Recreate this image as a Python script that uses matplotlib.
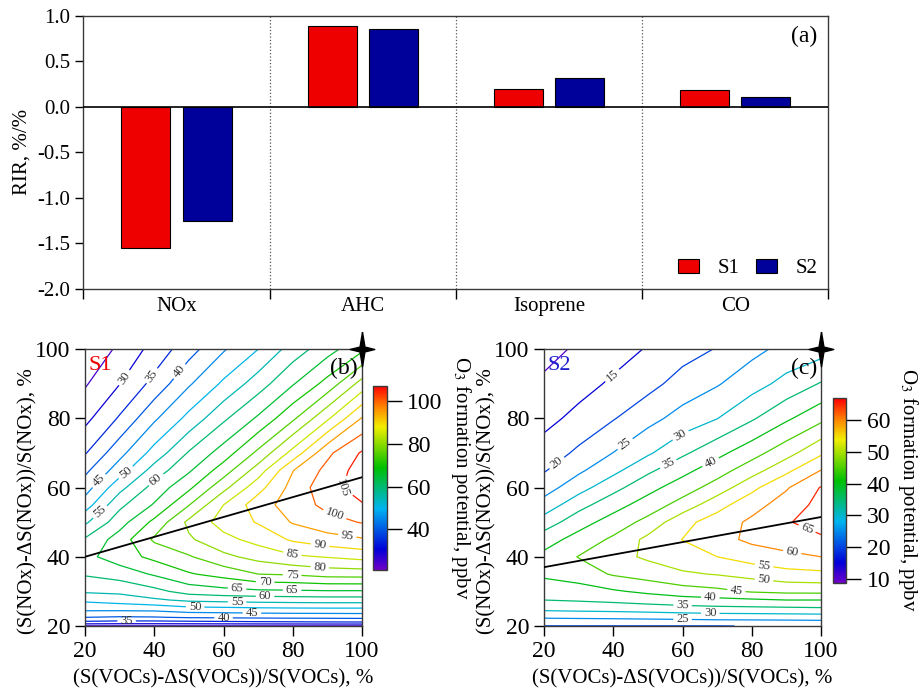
"""RIR bar chart (a) and O3 isopleth panels (b), (c) for scenarios S1 and S2."""

import numpy as np
import matplotlib
matplotlib.use("Agg")
import matplotlib.pyplot as plt
import matplotlib.cm as cm
from matplotlib.colors import LinearSegmentedColormap, Normalize
from matplotlib.path import Path


# ---- panel (a): relative incremental reactivity ----
CATEGORIES = ["NOx", "AHC", "Isoprene", "CO"]
RIR_S1 = [-1.55, 0.89, 0.20, 0.19]
RIR_S2 = [-1.25, 0.855, 0.32, 0.105]

# ---- panels (b), (c): O3 formation potential (ppbv) ----
VOC_PCT = [20, 30, 40, 50, 60, 70, 80, 90, 100]
NOX_PCT = [20, 21, 22.5, 25, 27.5, 30, 35, 40, 45, 50, 55, 60, 65, 70, 80, 90, 100]

# rows follow NOX_PCT, columns follow VOC_PCT
O3_S1 = [
    [24.6, 24.6, 24.6, 24.6, 24.6, 24.6, 24.6, 24.6, 24.6],
    [33.5, 33.0, 33.0, 33.2, 33.5, 33.8, 34.0, 34.2, 34.3],
    [40.0, 39.5, 39.7, 40.5, 40.7, 41.0, 41.2, 41.3, 41.5],
    [46.6, 46.7, 46.9, 48.5, 48.8, 49.2, 49.4, 49.5, 49.5],
    [51.0, 52.3, 54.2, 56.0, 56.6, 57.0, 57.3, 57.5, 57.5],
    [55.7, 56.2, 58.5, 62.0, 63.2, 64.0, 64.2, 64.5, 64.5],
    [60.5, 62.2, 65.6, 69.5, 71.9, 75.0, 75.6, 77.0, 77.2],
    [63.5, 67.7, 71.3, 74.5, 78.8, 81.7, 84.2, 85.3, 86.6],
    [60.6, 67.3, 75.8, 79.3, 83.5, 86.7, 90.7, 93.0, 94.5],
    [54.1, 62.9, 71.3, 81.2, 87.0, 90.4, 95.4, 98.2, 100.3],
    [47.5, 58.8, 65.5, 74.8, 85.0, 92.8, 97.3, 101.4, 104.6],
    [42.7, 53.4, 61.9, 69.0, 78.5, 88.2, 96.8, 103.2, 107.2],
    [38.8, 47.6, 57.1, 64.3, 72.5, 82.3, 94.8, 101.5, 107.3],
    [34.6, 43.4, 51.9, 60.5, 67.3, 76.2, 86.7, 98.9, 105.6],
    [28.6, 35.6, 44.2, 51.5, 59.1, 65.8, 74.1, 84.2, 95.4],
    [24.5, 29.9, 36.6, 44.4, 50.9, 57.6, 64.6, 71.8, 82.0],
    [21.0, 26.0, 31.8, 38.0, 44.5, 50.0, 57.3, 63.0, 69.0],
]

O3_S2 = [
    [19.9, 19.9, 19.9, 19.9, 19.9, 19.9, 20.1, 20.1, 20.2],
    [22.0, 22.2, 22.3, 22.4, 22.6, 22.8, 22.9, 23.0, 23.2],
    [25.6, 25.8, 26.0, 26.3, 26.6, 27.0, 27.1, 27.3, 27.5],
    [31.3, 31.7, 32.0, 32.5, 33.2, 33.6, 33.8, 34.0, 34.3],
    [35.0, 35.5, 36.2, 37.2, 38.0, 38.7, 39.3, 40.0, 40.0],
    [37.2, 37.8, 39.4, 41.0, 42.8, 43.8, 45.5, 46.2, 46.3],
    [40.9, 42.5, 45.5, 47.3, 49.3, 50.3, 51.7, 53.3, 53.8],
    [41.3, 45.2, 48.3, 50.8, 53.0, 55.0, 57.2, 58.8, 60.0],
    [37.8, 41.9, 45.9, 51.3, 55.1, 58.2, 61.1, 62.5, 64.2],
    [32.3, 38.0, 42.1, 46.6, 53.5, 57.3, 61.0, 64.6, 67.0],
    [27.0, 33.2, 38.1, 42.2, 47.0, 53.2, 58.1, 62.3, 66.5],
    [22.8, 28.0, 33.4, 38.4, 42.5, 47.2, 53.7, 59.5, 65.3],
    [19.6, 24.1, 28.6, 34.0, 38.5, 42.8, 47.8, 53.8, 60.1],
    [17.1, 21.0, 25.1, 29.3, 34.1, 38.6, 43.1, 48.1, 54.2],
    [13.5, 16.4, 19.7, 23.4, 26.9, 29.9, 34.4, 39.2, 43.7],
    [10.8, 13.2, 15.8, 18.4, 22.0, 24.6, 28.0, 31.6, 35.4],
    [8.5, 10.7, 12.9, 15.4, 18.0, 20.3, 23.6, 26.5, 28.0],
]

# ridge lines (transition between VOC- and NOx-limited regimes)
RIDGE_VOC = [20, 100]
RIDGE_NOX_S1 = [40, 63]
RIDGE_NOX_S2 = [37, 51.5]

LEVELS_S1 = list(range(25, 110, 5))
LEVELS_S2 = list(range(10, 70, 5))
CBAR_TICKS_S1 = [40, 60, 80, 100]
CBAR_TICKS_S2 = [10, 20, 30, 40, 50, 60]

# where the inline contour labels sit
LABEL_POS_S1 = [(31.6, 91.6), (39.8, 92), (48, 93), (24.3, 61.7), (32, 64.1),
                (40.2, 62.7), (23.9, 53.5), (93.7, 59.8), (91.8, 51.4),
                (95.7, 45.8), (87.8, 42.9), (79.8, 40.5), (87.8, 36.7),
                (79.8, 34.7), (72, 32.6), (63.9, 30.6), (79.8, 30.2), (72, 28.5),
                (63.9, 26.7), (51.8, 25.4), (68.2, 23.7), (60, 22.2), (32, 21.3)]
LABEL_POS_S2 = [(40, 92.1), (24.1, 66.6), (43.9, 71.9), (60, 74.3), (56, 66.6),
                (68, 67.5), (95.6, 47.3), (91.6, 41), (83.5, 37.2), (83.5, 33.3),
                (75.6, 30.6), (68, 28), (60, 25.8), (68, 23.5), (60, 21.7)]

RED = "#ee0000"
BLUE = "#00009a"
SPINE = "#3a3a3a"

RAINBOW = LinearSegmentedColormap.from_list(
    "igor_rainbow",
    [(0.0, "#7000c8"), (0.111, "#0000d8"), (0.333, "#00b4f0"),
     (0.556, "#00c000"), (0.778, "#f2ee00"), (0.89, "#ff8000"), (1.0, "#ff0000")],
)

# four-pointed star for the top-right corner of the isopleths
STAR = Path([(0, 1.2), (0.17, 0.17), (0.85, 0), (0.17, -0.17), (0, -1.2),
             (-0.17, -0.17), (-0.85, 0), (-0.17, 0.17), (0, 1.2)])

plt.rcParams["font.family"] = ["Liberation Serif", "DejaVu Serif"]
plt.rcParams["mathtext.fontset"] = "stix"
plt.rcParams["axes.unicode_minus"] = False
plt.rcParams["axes.edgecolor"] = SPINE
plt.rcParams["axes.linewidth"] = 1.0


def draw_rir(ax):
    x = np.arange(len(CATEGORIES))
    width = 0.263
    ax.bar(x - 0.164, RIR_S1, width, color=RED, edgecolor="black", linewidth=0.8,
           label="S1", zorder=3)
    ax.bar(x + 0.164, RIR_S2, width, color=BLUE, edgecolor="black", linewidth=0.8,
           label="S2", zorder=3)
    ax.axhline(0, color="black", linewidth=1.2, zorder=4)

    bounds = np.arange(len(CATEGORIES) + 1) - 0.5
    for b in bounds[1:-1]:
        ax.axvline(b, color="#555555", linestyle=":", linewidth=0.9, zorder=1)

    ax.set_xlim(bounds[0], bounds[-1])
    ax.set_ylim(-2.0, 1.0)
    yt = np.arange(-2.0, 1.01, 0.5)
    ax.set_yticks(yt)
    ax.set_yticklabels([f"{v:.1f}" for v in yt])
    ax.set_xticks(bounds)
    ax.set_xticklabels([])
    ax.set_xticks(x, minor=True)
    ax.set_xticklabels(CATEGORIES, minor=True)
    ax.tick_params(axis="x", which="major", direction="out", length=7, width=1)
    ax.tick_params(axis="x", which="minor", length=0, labelsize=15, pad=6)
    ax.tick_params(axis="y", direction="out", length=6, width=1, labelsize=15)

    ax.set_ylabel("RIR, %/%", fontsize=15)
    ax.yaxis.set_label_coords(-0.070, 0.5)
    ax.text(0.985, 0.965, "(a)", transform=ax.transAxes, ha="right", va="top",
            fontsize=17)
    ax.legend(loc="lower right", ncol=2, frameon=False, fontsize=15,
              handlelength=1.0, handleheight=0.7, handletextpad=0.9,
              columnspacing=0.8, borderaxespad=0.1)


def draw_isopleth(ax, cax, field, levels, ridge_nox, label_pos, cbar_ticks,
                  scen, scen_color, tag):
    X, Y = np.meshgrid(VOC_PCT, NOX_PCT)
    Z = np.array(field)
    norm = Normalize(vmin=Z.min(), vmax=Z.max())

    cs = ax.contour(X, Y, Z, levels=levels, cmap=RAINBOW, norm=norm,
                    linewidths=0.9)
    ax.clabel(cs, inline=True, fmt="%d", fontsize=9, colors="#333333",
              manual=label_pos, inline_spacing=3)
    ax.plot(RIDGE_VOC, ridge_nox, color="black", linewidth=1.3, zorder=5)
    ax.plot([VOC_PCT[-1]], [NOX_PCT[-1]], marker=STAR, markersize=25,
            color="black", clip_on=False, zorder=10)

    ax.set_xlim(VOC_PCT[0], VOC_PCT[-1])
    ax.set_ylim(NOX_PCT[0], NOX_PCT[-1])
    ax.set_xticks(np.arange(20, 101, 20))
    ax.set_yticks(np.arange(20, 101, 20))
    ax.tick_params(direction="out", length=7, width=1, labelsize=17)

    ax.set_xlabel("(S(VOCs)-\u0394S(VOCs))/S(VOCs), %", fontsize=15)
    ax.xaxis.set_label_coords(0.5, -0.155)
    ax.set_ylabel("(S(NOx)-\u0394S(NOx))/S(NOx), %", fontsize=15)
    ax.yaxis.set_label_coords(-0.17, 0.45)

    ax.text(0.012, 0.975, scen, transform=ax.transAxes, ha="left", va="top",
            fontsize=16, color=scen_color)
    ax.text(0.985, 0.97, tag, transform=ax.transAxes, ha="right", va="top",
            fontsize=17)

    cb = plt.colorbar(cm.ScalarMappable(norm=norm, cmap=RAINBOW), cax=cax)
    cb.set_ticks(cbar_ticks)
    cb.outline.set_edgecolor(SPINE)
    cax.tick_params(direction="out", length=11, width=1, labelsize=17)


def main():
    fig = plt.figure(figsize=(9.21, 6.9), dpi=100)

    ax_a = fig.add_axes([0.0905, 0.5816, 0.8089, 0.3952])
    draw_rir(ax_a)

    ax_b = fig.add_axes([0.0923, 0.0928, 0.3008, 0.401])
    cax_b = fig.add_axes([0.4047, 0.1739, 0.0152, 0.2671])
    draw_isopleth(ax_b, cax_b, O3_S1, LEVELS_S1, RIDGE_NOX_S1, LABEL_POS_S1,
                  CBAR_TICKS_S1, "S1", RED, "(b)")

    ax_c = fig.add_axes([0.5907, 0.0928, 0.3008, 0.401])
    cax_c = fig.add_axes([0.9041, 0.1546, 0.015, 0.2681])
    draw_isopleth(ax_c, cax_c, O3_S2, LEVELS_S2, RIDGE_NOX_S2, LABEL_POS_S2,
                  CBAR_TICKS_S2, "S2", "#2020d0", "(c)")

    cbar_label = "O$_3$ formation potential, ppbv"
    fig.text(461 / 921, 1 - 478 / 690, cbar_label, rotation=270, ha="center",
             va="center", fontsize=15)
    fig.text(908 / 921, 1 - 490 / 690, cbar_label, rotation=270, ha="center",
             va="center", fontsize=15)

    fig.savefig("out.png", dpi=100)
    plt.close(fig)


if __name__ == "__main__":
    main()
